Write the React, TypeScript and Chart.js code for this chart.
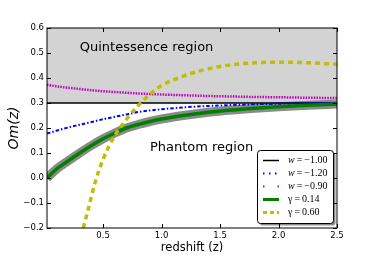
import React, { useEffect, useRef } from "react";
import { Chart, registerables } from "chart.js";

Chart.register(...registerables);

// ---- data ----
const Z = [0.02, 0.1, 0.2, 0.3, 0.4, 0.5, 0.6, 0.7, 0.8, 0.9, 1.0, 1.2, 1.4, 1.6, 1.8, 2.0, 2.25, 2.5];
const W_M100 = [0.3, 0.3, 0.3, 0.3, 0.3, 0.3, 0.3, 0.3, 0.3, 0.3, 0.3, 0.3, 0.3, 0.3, 0.3, 0.3, 0.3, 0.3];
const W_M120 = [0.178, 0.189, 0.202, 0.213, 0.224, 0.235, 0.245, 0.254, 0.264, 0.27, 0.275, 0.283, 0.288, 0.292, 0.295, 0.297, 0.299, 0.3];
const W_M090 = [0.373, 0.367, 0.361, 0.356, 0.351, 0.347, 0.344, 0.341, 0.338, 0.336, 0.334, 0.331, 0.328, 0.326, 0.324, 0.323, 0.321, 0.32];
const G_014 = [0.0, 0.035, 0.068, 0.1, 0.13, 0.157, 0.18, 0.2, 0.214, 0.226, 0.236, 0.251, 0.263, 0.272, 0.279, 0.285, 0.291, 0.296];
const Z_G060 = [0.33, 0.37, 0.43, 0.5, 0.6, 0.7, 0.8, 0.9, 1.0, 1.2, 1.4, 1.6, 1.8, 2.0, 2.2, 2.5];
const G_060 = [-0.2, -0.13, -0.02, 0.075, 0.17, 0.235, 0.29, 0.335, 0.37, 0.41, 0.437, 0.453, 0.461, 0.463, 0.462, 0.455];

const X_TICKS = [0.5, 1.0, 1.5, 2.0, 2.5];
const X_MIN = 0.02;
const X_MAX = 2.5;
const Y_MIN = -0.2;
const Y_MAX = 0.6;
const SHADE_LOW = 0.3;
const SHADE_HIGH = 0.6;
const REGION_LABELS = [
  { text: "Quintessence region", x: 0.3, y: 0.52 },
  { text: "Phantom region", x: 0.9, y: 0.12 },
];

const LEGEND = [
  { sym: "w", italic: true, rest: "\u2009=\u2009\u22121.00", color: "#000000", width: 1.5, dash: [] as number[] },
  { sym: "w", italic: true, rest: "\u2009=\u2009\u22121.20", color: "#0000ff", width: 2, dash: [1.5, 4.5] },
  { sym: "w", italic: true, rest: "\u2009=\u2009\u22120.90", color: "#bf00bf", width: 2, dash: [1.5, 13] },
  { sym: "\u03b3", italic: false, rest: "\u2009=\u20090.14", color: "#008000", width: 3, dash: [] as number[] },
  { sym: "\u03b3", italic: false, rest: "\u2009=\u20090.60", color: "#bfbf00", width: 3, dash: [4, 3] },
];

const pts = (xs: number[], ys: number[]) => xs.map((x, i) => ({ x, y: ys[i] }));

const overlay = {
  id: "overlay",
  beforeDatasetsDraw(chart: any) {
    const { ctx, chartArea: a, scales } = chart;
    const y = scales.y;
    ctx.save();
    ctx.fillStyle = "#d3d3d3";
    const top = y.getPixelForValue(SHADE_HIGH);
    const bot = y.getPixelForValue(SHADE_LOW);
    ctx.fillRect(a.left, top, a.right - a.left, bot - top);
    ctx.restore();
  },
  afterDatasetsDraw(chart: any) {
    const { ctx, chartArea: a, scales } = chart;
    const xs = scales.x;
    const ys = scales.y;
    ctx.save();
    // region labels
    ctx.fillStyle = "#000";
    ctx.font = "13px 'DejaVu Sans'";
    ctx.textAlign = "left";
    ctx.textBaseline = "middle";
    for (const r of REGION_LABELS) {
      ctx.fillText(r.text, xs.getPixelForValue(r.x), ys.getPixelForValue(r.y));
    }
    // frame
    ctx.strokeStyle = "#000";
    ctx.lineWidth = 1;
    ctx.strokeRect(a.left, a.top, a.right - a.left, a.bottom - a.top);
    // ticks
    ctx.beginPath();
    for (const t of ys.ticks) {
      const p = Math.round(ys.getPixelForValue(t.value)) + 0.5;
      ctx.moveTo(a.left, p);
      ctx.lineTo(a.left + 4, p);
      ctx.moveTo(a.right, p);
      ctx.lineTo(a.right - 4, p);
    }
    for (const t of xs.ticks) {
      const p = Math.round(xs.getPixelForValue(t.value)) + 0.5;
      ctx.moveTo(p, a.bottom);
      ctx.lineTo(p, a.bottom - 4);
      ctx.moveTo(p, a.top);
      ctx.lineTo(p, a.top + 4);
    }
    ctx.stroke();

    // axis titles
    ctx.textAlign = "center";
    ctx.textBaseline = "middle";
    ctx.font = "11.5px 'DejaVu Sans'";
    ctx.fillText("redshift (z)", (a.left + a.right) / 2, a.bottom + 20);
    ctx.save();
    ctx.translate(14, (a.top + a.bottom) / 2);
    ctx.rotate(-Math.PI / 2);
    ctx.font = "italic 14px 'DejaVu Sans'";
    ctx.fillText("Om(z)", 0, 0);
    ctx.restore();

    // legend
    const lw = 76;
    const lh = 73;
    const lx = a.right - 80;
    const ly = a.bottom - 78;
    const rr = (x: number, y: number, w: number, h: number, r: number) => {
      ctx.beginPath();
      ctx.moveTo(x + r, y);
      ctx.lineTo(x + w - r, y);
      ctx.quadraticCurveTo(x + w, y, x + w, y + r);
      ctx.lineTo(x + w, y + h - r);
      ctx.quadraticCurveTo(x + w, y + h, x + w - r, y + h);
      ctx.lineTo(x + r, y + h);
      ctx.quadraticCurveTo(x, y + h, x, y + h - r);
      ctx.lineTo(x, y + r);
      ctx.quadraticCurveTo(x, y, x + r, y);
      ctx.closePath();
    };
    rr(lx + 2.5, ly + 2.5, lw, lh, 3);
    ctx.fillStyle = "rgba(0,0,0,0.45)";
    ctx.fill();
    rr(lx + 0.5, ly + 0.5, lw, lh, 3);
    ctx.fillStyle = "#fff";
    ctx.fill();
    ctx.strokeStyle = "#000";
    ctx.lineWidth = 1;
    ctx.stroke();
    LEGEND.forEach((e, i) => {
      const yy = ly + 10.5 + i * 13;
      ctx.save();
      ctx.beginPath();
      ctx.strokeStyle = e.color;
      ctx.lineWidth = e.width;
      ctx.setLineDash(e.dash);
      ctx.moveTo(lx + 6, yy);
      ctx.lineTo(lx + 22, yy);
      ctx.stroke();
      ctx.restore();
      ctx.fillStyle = "#000";
      ctx.textAlign = "left";
      ctx.textBaseline = "middle";
      ctx.font = (e.italic ? "italic " : "") + "10px 'Liberation Serif'";
      const tx = lx + 31;
      ctx.fillText(e.sym, tx, yy);
      const w0 = ctx.measureText(e.sym).width;
      ctx.font = "10px 'Liberation Serif'";
      ctx.fillText(e.rest, tx + w0, yy);
    });
    ctx.restore();
  },
};

export default function App() {
  const ref = useRef<HTMLCanvasElement | null>(null);
  useEffect(() => {
    if (!ref.current) return;
    const chart = new Chart(ref.current, {
      type: "line",
      data: {
        datasets: [
          { label: "w=-1.00", order: 4, data: pts(Z, W_M100), borderColor: "#000000", borderWidth: 1.5, pointRadius: 0, fill: false },
          { label: "w=-1.20", order: 3, data: pts(Z, W_M120), borderColor: "#0000ff", borderWidth: 2, borderDash: [3.5, 2, 1.5, 2], pointRadius: 0, fill: false, cubicInterpolationMode: "monotone" },
          { label: "w=-0.90", order: 2, data: pts(Z, W_M090), borderColor: "#bf00bf", borderWidth: 2.5, borderDash: [1.5, 1.2], pointRadius: 0, fill: false, cubicInterpolationMode: "monotone" },
          { label: "band", order: 6, data: pts(Z, G_014), borderColor: "#8a8a8a", borderWidth: 9, pointRadius: 0, fill: false, cubicInterpolationMode: "monotone", borderCapStyle: "butt" },
          { label: "g=0.14", order: 1, data: pts(Z, G_014), borderColor: "#008000", borderWidth: 3.5, pointRadius: 0, fill: false, cubicInterpolationMode: "monotone" },
          { label: "g=0.60", order: 0, data: pts(Z_G060, G_060), borderColor: "#bfbf00", borderWidth: 3.5, borderDash: [5, 4], pointRadius: 0, fill: false, cubicInterpolationMode: "monotone" },
        ],
      },
      options: {
        animation: false,
        responsive: false,
        devicePixelRatio: 1,
        parsing: false,
        layout: { padding: { left: 0, top: 28, right: 37, bottom: 0 } },
        plugins: { legend: { display: false }, tooltip: { enabled: false } },
        scales: {
          x: {
            type: "linear",
            min: X_MIN,
            max: X_MAX,
            grid: { display: false, drawTicks: false },
            border: { display: false },
            afterBuildTicks: (s: any) => {
              s.ticks = X_TICKS.map((v) => ({ value: v }));
            },
            afterFit: (s: any) => {
              s.height = 52;
            },
            ticks: {
              padding: 3,
              color: "#000",
              maxRotation: 0,
              font: { family: "'DejaVu Sans'", size: 8.5 },
              callback: (v: any) => Number(v).toFixed(1),
            },
          },
          y: {
            type: "linear",
            min: Y_MIN,
            max: Y_MAX,
            grid: { display: false, drawTicks: false },
            border: { display: false },
            afterFit: (s: any) => {
              s.width = 47;
            },
            ticks: {
              stepSize: 0.1,
              padding: 3,
              color: "#000",
              font: { family: "'DejaVu Sans'", size: 8.5 },
              callback: (v: any) => Number(v).toFixed(1).replace("-", "\u2212"),
            },
          },
        },
      },
      plugins: [overlay],
    } as any);
    return () => chart.destroy();
  }, []);
  return (
    <div style={{ position: "absolute", left: 0, top: 0, width: 374, height: 280, background: "#fff" }}>
      <canvas ref={ref} width={374} height={280} style={{ display: "block" }} />
    </div>
  );
}
